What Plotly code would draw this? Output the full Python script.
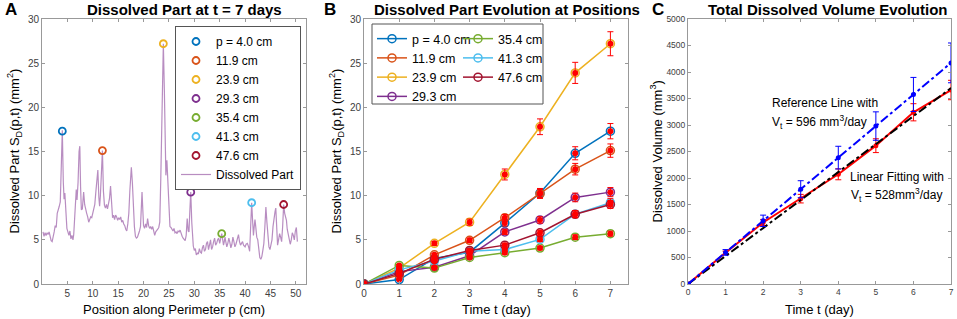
import plotly.graph_objects as go

# ---------------- Panel A data ----------------
perim_x = [0.2, 0.4, 0.6, 0.8, 1.0, 1.2, 1.4, 1.6, 1.8, 2.0, 2.2, 2.4, 2.6, 2.8, 3.0, 3.2, 3.4, 3.6, 3.8, 4.0,
           4.2, 4.35, 4.5, 4.7, 4.9, 5.1, 5.3, 5.5, 5.7, 5.9, 6.1, 6.25, 6.45, 6.6, 6.75, 6.9, 7.1, 7.3, 7.45, 7.6,
           7.75, 7.95, 8.2, 8.4, 8.6, 8.8, 9.0, 9.2, 9.4, 9.6, 9.8, 10.0, 10.2, 10.4, 10.6, 10.8, 11.0, 11.2, 11.35, 11.5,
           11.7, 11.9, 12.1, 12.3, 12.5, 12.7, 12.9, 13.1, 13.3, 13.5, 13.7, 13.9, 14.1, 14.3, 14.5, 14.7, 14.9, 15.1, 15.3, 15.5,
           15.7, 15.9, 16.1, 16.3, 16.5, 16.7, 16.9, 17.1, 17.3, 17.6, 17.8, 18.0, 18.2, 18.4, 18.6, 18.8, 19.0, 19.2, 19.4, 19.55,
           19.7, 19.85, 20.0, 20.2, 20.4, 20.6, 20.8, 21.0, 21.2, 21.4, 21.6, 21.8, 22.0, 22.2, 22.4, 22.6, 22.8, 23.0, 23.2, 23.4,
           23.6, 23.9, 24.1, 24.25, 24.4, 24.6, 24.8, 25.0, 25.2, 25.4, 25.6, 25.8, 26.0, 26.2, 26.4, 26.6, 26.8, 27.0, 27.2, 27.4,
           27.6, 27.8, 28.0, 28.2, 28.4, 28.6, 28.8, 28.95, 29.1, 29.3, 29.5, 29.65, 29.8, 30.0, 30.2, 30.4, 30.6, 30.8, 31.0, 31.2,
           31.4, 31.6, 31.8, 32.0, 32.2, 32.4, 32.6, 32.8, 33.0, 33.2, 33.4, 33.6, 33.8, 34.0, 34.2, 34.4, 34.6, 34.8, 35.0, 35.2,
           35.4, 35.6, 35.75, 35.9, 36.05, 36.2, 36.4, 36.6, 36.8, 37.0, 37.2, 37.4, 37.6, 37.8, 38.0, 38.2, 38.4, 38.7, 38.9, 39.1,
           39.3, 39.5, 39.7, 40.0, 40.2, 40.45, 40.7, 40.9, 41.1, 41.3, 41.5, 41.65, 41.8, 41.95, 42.1, 42.3, 42.5, 42.7, 42.9, 43.1,
           43.3, 43.5, 43.7, 43.9, 44.1, 44.3, 44.5, 44.7, 44.9, 45.1, 45.3, 45.5, 45.7, 45.9, 46.05, 46.25, 46.4, 46.6, 46.8, 47.0,
           47.2, 47.4, 47.6, 47.8, 48.0, 48.15, 48.3, 48.5, 48.7, 48.9, 49.1, 49.3, 49.5, 49.7, 49.9, 50.1, 50.3]
perim_sd = [5.9, 5.4, 5.8, 5.5, 5.8, 5.6, 5.9, 5.3, 4.9, 4.8, 5.2, 5.9, 6.6, 6.4, 8.0, 8.6, 8.8, 9.3, 12.5, 17.4,
            11.5, 9.6, 10.3, 8.5, 6.3, 5.9, 5.5, 6.0, 5.1, 5.5, 5.0, 5.6, 8.0, 10.6, 10.7, 9.5, 11.5, 15.0, 15.6, 11.0,
            8.4, 8.5, 10.4, 9.0, 8.3, 8.0, 7.6, 7.0, 7.3, 7.6, 7.5, 7.9, 8.4, 9.0, 10.4, 11.5, 12.9, 9.8, 8.8, 10.0,
            12.5, 15.1, 10.5, 8.9, 8.6, 9.0, 8.5, 9.3, 9.7, 11.1, 8.8, 7.5, 7.8, 7.3, 7.8, 7.6, 7.2, 7.5, 7.3, 7.6,
            7.0, 7.2, 6.8, 6.6, 6.2, 6.0, 6.8, 8.0, 10.5, 13.2, 11.5, 8.5, 6.5, 5.4, 5.2, 5.3, 5.6, 6.0, 6.5, 8.5,
            10.4, 8.5, 6.6, 6.3, 6.8, 6.4, 7.4, 6.6, 6.3, 6.5, 6.2, 6.5, 5.8, 5.5, 5.9, 6.0, 6.2, 6.4, 7.0, 12.0,
            20.0, 27.2, 22.0, 14.5, 12.3, 14.0, 11.0, 7.5, 6.5, 6.4, 6.2, 6.0, 6.3, 5.8, 5.9, 5.7, 6.0, 5.9, 6.1, 5.6,
            5.4, 5.2, 5.1, 4.9, 5.5, 7.4, 6.0, 5.9, 8.0, 10.4, 7.0, 4.5, 4.3, 3.8, 4.0, 3.3, 3.5, 3.4, 4.0, 3.6,
            3.5, 4.1, 4.4, 3.7, 3.9, 4.6, 4.8, 3.9, 4.6, 5.0, 3.9, 4.2, 4.8, 5.2, 4.4, 4.6, 5.0, 5.2, 4.6, 5.1,
            5.7, 5.0, 4.4, 4.8, 5.3, 4.8, 4.2, 4.6, 5.2, 4.7, 4.1, 4.5, 5.3, 4.8, 4.2, 4.5, 4.9, 5.6, 4.8, 4.4,
            4.6, 4.8, 4.4, 4.2, 4.5, 4.6, 4.2, 3.7, 6.5, 9.2, 7.0, 5.5, 6.5, 7.3, 6.5, 5.3, 5.0, 3.6, 3.0, 2.8,
            3.1, 3.8, 4.6, 6.5, 8.7, 7.0, 5.4, 4.2, 3.9, 4.5, 5.0, 6.5, 7.8, 8.2, 8.6, 6.0, 4.4, 5.0, 5.7, 5.3,
            4.8, 6.5, 9.0, 8.0, 7.5, 7.2, 6.2, 5.5, 5.0, 4.5, 5.0, 5.8, 5.5, 5.0, 6.0, 6.4, 4.8]

pos_values = [4.0, 11.9, 23.9, 29.3, 35.4, 41.3, 47.6]
pos_names = ["p = 4.0 cm", "11.9 cm", "23.9 cm", "29.3 cm", "35.4 cm", "41.3 cm", "47.6 cm"]
pos_colors = ["#0072BD", "#D95319", "#EDB120", "#7E2F8E", "#77AC30", "#4DBEEE", "#A2142F"]

# ---------------- Panel B data ----------------
days = [0, 1, 2, 3, 4, 5, 6, 7]
sd_p040 = [0, 0.5, 2.9, 3.6, 6.9, 10.3, 14.8, 17.3]
sd_p119 = [0, 1.0, 3.3, 4.95, 7.5, 10.2, 13.0, 15.1]
sd_p239 = [0, 1.8, 4.6, 7.0, 12.4, 17.8, 23.9, 27.2]
sd_p293 = [0, 1.4, 1.9, 3.2, 5.9, 7.25, 9.8, 10.4]
sd_p354 = [0, 2.1, 1.8, 3.0, 3.55, 4.07, 5.3, 5.7]
sd_p413 = [0, 1.6, 2.6, 3.7, 3.9, 5.05, 7.9, 9.2]
sd_p476 = [0, 1.2, 2.8, 3.8, 4.4, 5.8, 7.9, 9.0]
sd_series = [sd_p040, sd_p119, sd_p239, sd_p293, sd_p354, sd_p413, sd_p476]
sd_err_percent = 5

# ---------------- Panel C data ----------------
vol_ref = [0, 596, 1192, 1788, 2384, 2980, 3576, 4172]
vol_meas = [0, 590, 1160, 1610, 2070, 2610, 3240, 3660]
fit_days = [0, 7]
vol_fit = [0, 3696]
ref_err_percent = 9
meas_err_percent = 5

FONT = "Arial, Liberation Sans, sans-serif"
W, H = 957, 319

fig = go.Figure()

# Panel A
fig.add_trace(go.Scatter(x=perim_x, y=perim_sd, mode="lines", name="Dissolved Part",
                         line=dict(color="rgba(126,47,142,0.55)", width=1.2),
                         xaxis="x", yaxis="y", legend="legend", legendrank=100))
for i, p in enumerate(pos_values):
    fig.add_trace(go.Scatter(x=[p], y=[sd_series[i][-1]], mode="markers", name=pos_names[i],
                             marker=dict(symbol="circle-open", size=7, color=pos_colors[i], line=dict(width=1.8)),
                             xaxis="x", yaxis="y", legend="legend", legendrank=i + 1))

# Panel B
for i, s in enumerate(sd_series):
    fig.add_trace(go.Scatter(x=days, y=s, mode="lines+markers", name=pos_names[i],
                             line=dict(color=pos_colors[i], width=1.5),
                             marker=dict(symbol="circle-open", size=8, color=pos_colors[i], line=dict(width=1.5)),
                             xaxis="x2", yaxis="y2", legend="legend2" if i < 4 else "legend3"))
for i, s in enumerate(sd_series):
    fig.add_trace(go.Scatter(x=days, y=s, mode="markers", showlegend=False,
                             marker=dict(symbol="circle", size=6, color="#FF0000"),
                             error_y=dict(type="percent", value=sd_err_percent, color="#FF0000",
                                          thickness=1, width=3),
                             xaxis="x2", yaxis="y2"))

# Panel C
fig.add_trace(go.Scatter(x=days, y=vol_meas, mode="lines+markers", showlegend=False,
                         line=dict(color="#FF0000", width=2), marker=dict(size=5, color="#FF0000"),
                         error_y=dict(type="percent", value=meas_err_percent, color="#FF0000", thickness=1, width=3),
                         xaxis="x3", yaxis="y3"))
fig.add_trace(go.Scatter(x=fit_days, y=vol_fit, mode="lines", showlegend=False,
                         line=dict(color="#000000", width=2, dash="dashdot"),
                         xaxis="x3", yaxis="y3"))
fig.add_trace(go.Scatter(x=days, y=vol_ref, mode="lines+markers", showlegend=False,
                         line=dict(color="#0000FF", width=2, dash="dashdot"), marker=dict(size=5, color="#0000FF"),
                         error_y=dict(type="percent", value=ref_err_percent, color="#0000FF", thickness=1, width=3),
                         xaxis="x3", yaxis="y3"))

def px(x):
    return x / W

def py(y):
    return 1 - y / H

axis_common = dict(showline=True, mirror="ticks", linecolor="#999999", linewidth=1, ticks="inside",
                   ticklen=3, tickcolor="#999999", showgrid=False, zeroline=False, automargin=False,
                   tickfont=dict(family=FONT, size=10, color="#404040"))
ydom = [py(284), py(19)]

fig.update_layout(
    width=W, height=H, margin=dict(l=0, r=0, t=0, b=0),
    paper_bgcolor="white", plot_bgcolor="white",
    font=dict(family=FONT, color="#000000"),
    xaxis=dict(domain=[px(42), px(306)], range=[0, 52], tickvals=[5, 10, 15, 20, 25, 30, 35, 40, 45, 50],
               anchor="y", **axis_common),
    yaxis=dict(domain=ydom, range=[0, 30], dtick=5, anchor="x", **axis_common),
    xaxis2=dict(domain=[px(364), px(628)], range=[0, 7.5], dtick=1, anchor="y2", **axis_common),
    yaxis2=dict(domain=ydom, range=[0, 30], dtick=5, anchor="x2", **axis_common),
    xaxis3=dict(domain=[px(688), px(951)], range=[0, 7], dtick=1, anchor="y3",
                **{**axis_common, "tickfont": dict(family=FONT, size=8.5, color="#404040")}),
    yaxis3=dict(domain=ydom, range=[0, 5000], dtick=500, anchor="x3",
                **{**axis_common, "tickfont": dict(family=FONT, size=8.5, color="#404040")}),
    legend=dict(x=px(301), xanchor="right", y=py(26), yanchor="top", bgcolor="white",
                bordercolor="#555555", borderwidth=1, font=dict(family=FONT, size=12),
                traceorder="normal", tracegroupgap=0),
    legend2=dict(x=px(372), xanchor="left", y=py(24), yanchor="top", bgcolor="rgba(0,0,0,0)",
                 borderwidth=0, font=dict(family=FONT, size=12.5), traceorder="normal"),
    legend3=dict(x=px(458), xanchor="left", y=py(24), yanchor="top", bgcolor="rgba(0,0,0,0)",
                 borderwidth=0, font=dict(family=FONT, size=12.5), traceorder="normal"),
    showlegend=True,
)

# legend box for panel B (two columns)
fig.add_shape(type="rect", xref="paper", yref="paper", x0=px(372), x1=px(543), y0=py(104), y1=py(24),
              line=dict(color="#555555", width=1), fillcolor="white", layer="below")

ann = []
# panel letters
for letter, xpos in [("A", 3), ("B", 322), ("C", 650)]:
    ann.append(dict(text="<b>%s</b>" % letter, x=px(xpos), y=py(9), xref="paper", yref="paper",
                    xanchor="left", yanchor="middle", showarrow=False, font=dict(family=FONT, size=17)))
# titles
for title, xpos in [("Dissolved Part at t = 7 days", 85), ("Dissolved Part Evolution at Positions", 372),
                    ("Total Dissolved Volume Evolution", 706)]:
    ann.append(dict(text="<b>%s</b>" % title, x=px(xpos), y=py(9), xref="paper", yref="paper",
                    xanchor="left", yanchor="middle", showarrow=False, font=dict(family=FONT, size=15)))
# axis titles
for text, xc in [("Position along Perimeter p (cm)", 174), ("Time t (day)", 496), ("Time t (day)", 819)]:
    ann.append(dict(text=text, x=px(xc), y=py(309), xref="paper", yref="paper", xanchor="center",
                    yanchor="middle", showarrow=False, font=dict(family=FONT, size=13)))
for text, xc in [("Dissolved Part S<sub>D</sub>(p,t) (mm<sup>2</sup>)", 14),
                 ("Dissolved Part S<sub>D</sub>(p,t) (mm<sup>2</sup>)", 336),
                 ("Dissolved Volume (mm<sup>3</sup>)", 656)]:
    ann.append(dict(text=text, x=px(xc), y=py(151.5), xref="paper", yref="paper", xanchor="center",
                    yanchor="middle", textangle=-90, showarrow=False, font=dict(family=FONT, size=13)))
# panel C text
for text, xd, yd in [("Reference Line with", 2.18, 3420), ("V<sub>t</sub> = 596 mm<sup>3</sup>/day", 2.17, 3060),
                     ("Linear Fitting with", 4.26, 2025), ("V<sub>t</sub> = 528mm<sup>3</sup>/day", 4.29, 1685)]:
    ann.append(dict(text=text, x=xd, y=yd, xref="x3", yref="y3", xanchor="left", yanchor="middle",
                    showarrow=False, font=dict(family=FONT, size=12)))
fig.update_layout(annotations=ann)

fig.write_html("out.html", config={"displayModeBar": False},
               post_script="document.body.style.margin='0';document.body.style.overflow='hidden';")
